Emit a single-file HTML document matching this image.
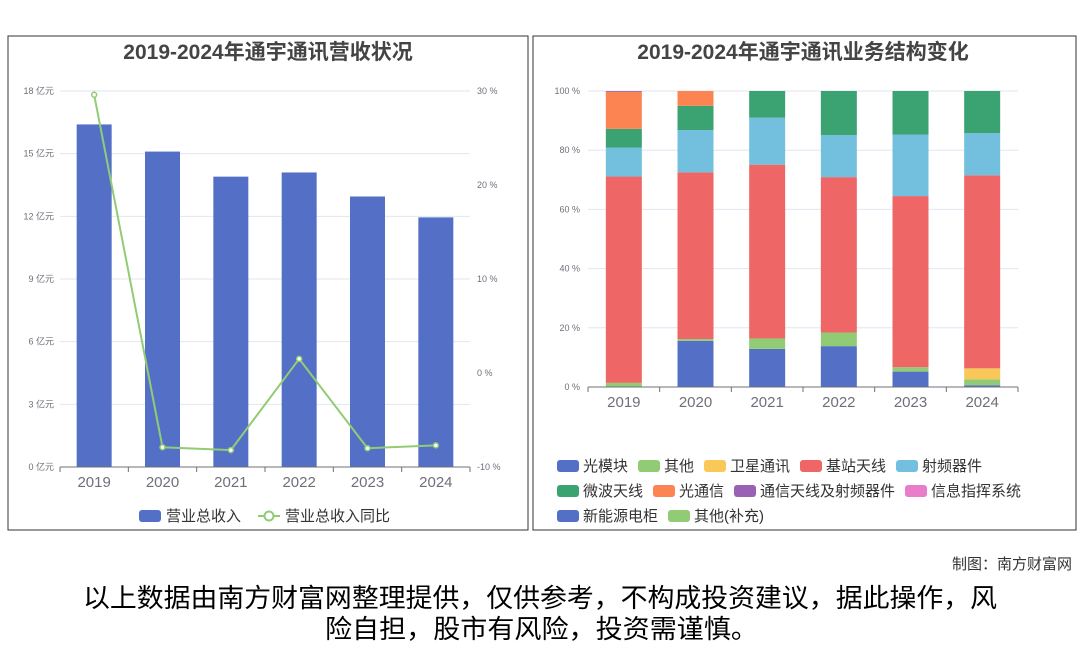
<!DOCTYPE html>
<html><head><meta charset="utf-8">
<style>
body{margin:0;width:1080px;height:646px;background:#fff;overflow:hidden;font-family:"Liberation Sans","Noto Sans CJK SC",sans-serif;}
svg{position:absolute;left:0;top:0}
.t{font-family:"Liberation Sans","Noto Sans CJK SC",sans-serif}
</style></head>
<body>
<svg id="s" width="1080" height="646">
<rect x="8" y="36" width="520" height="494" fill="none" stroke="#333" stroke-width="1"/>
<rect x="533" y="36" width="543" height="494" fill="none" stroke="#333" stroke-width="1"/>
<text class="t" x="268" y="59" text-anchor="middle" font-size="21" font-weight="bold" fill="#444">2019-2024年通宇通讯营收状况</text>
<text class="t" x="803" y="59" text-anchor="middle" font-size="21" font-weight="bold" fill="#444">2019-2024年通宇通讯业务结构变化</text>
<g id="L"></g><g id="R"></g>
<text class="t" x="1072" y="569" text-anchor="end" font-size="15" fill="#333">制图：南方财富网</text>
<text class="t" x="83" y="607" font-size="26" fill="#000" textLength="914" lengthAdjust="spacingAndGlyphs">以上数据由南方财富网整理提供，仅供参考，不构成投资建议，据此操作，风</text>
<text class="t" x="325" y="638" font-size="26" fill="#000" textLength="433" lengthAdjust="spacingAndGlyphs">险自担，股市有风险，投资需谨慎。</text>
</svg>
<script>
const years=["2019","2020","2021","2022","2023","2024"];
const revenue=[16.4,15.1,13.9,14.1,12.95,11.95];
const growth=[29.6,-7.9,-8.2,1.5,-8.0,-7.7];
const leftTicks=[0,3,6,9,12,15,18];
const rightTicks=[-10,0,10,20,30];
const segNames=["光模块","其他","卫星通讯","基站天线","射频器件","微波天线","光通信","通信天线及射频器件","信息指挥系统","新能源电柜","其他(补充)"];
const segColors=["#5470c6","#91cc75","#fac858","#ee6666","#73c0de","#3ba272","#fc8452","#9a60b4","#ea7ccc","#5470c6","#91cc75"];
const s_gmk=[0,15.6,12.9,13.8,5.2,0.6];
const s_other=[1.4,0.6,3.5,4.6,1.5,2.0];
const s_sat=[0,0,0,0,0,3.7];
const s_base=[69.7,56.3,58.7,52.5,57.8,65.2];
const s_rf=[9.8,14.3,15.9,14.2,20.8,14.3];
const s_mw=[6.3,8.2,9.0,14.9,14.7,14.2];
const s_opt=[12.5,5.0,0,0,0,0];
const s_ant=[0.3,0,0,0,0,0];
const s_info=[0,0,0,0,0,0];
const s_ne=[0,0,0,0,0,0];
const s_other2=[0,0,0,0,0,0];
const pctTicks=[0,20,40,60,80,100];
const NS="http://www.w3.org/2000/svg";
function mk(p,tag,a,txt){const e=document.createElementNS(NS,tag);for(const k in a)e.setAttribute(k,a[k]);if(txt!==undefined)e.textContent=txt;p.appendChild(e);return e;}
const L=document.getElementById('L');
const lx0=60,lx1=470,ly0=467,ly1=91;
const yL=v=>ly0-(v/18)*(ly0-ly1);
const yR=v=>ly0-((v+10)/40)*(ly0-ly1);
const bw=(lx1-lx0)/years.length;
const xc=i=>lx0+bw*(i+0.5);
leftTicks.forEach(t=>{const y=yL(t);
 let g=mk(L,'line',{x1:lx0,x2:lx1,y1:y,y2:y,stroke:'#e0e6f1'});
 
 let tx=mk(L,'text',{x:lx0-6,y:y+3,'text-anchor':'end','font-size':9,fill:'#6e7079',class:'t'},t+' 亿元');
 });
rightTicks.forEach(t=>{let tx=mk(L,'text',{x:lx1+7,y:yR(t)+3,'font-size':9,fill:'#6e7079',class:'t'},t+' %');
 });
revenue.forEach((v,i)=>{let r=mk(L,'rect',{x:xc(i)-17.5,y:yL(v),width:35,height:ly0-yL(v),fill:'#5470c6'});
 });
let ax=mk(L,'line',{x1:lx0,x2:lx1,y1:ly0,y2:ly0,stroke:'#6e7079'});

years.forEach((yr,i)=>{mk(L,'line',{x1:lx0+bw*i,x2:lx0+bw*i,y1:ly0,y2:ly0+5,stroke:'#6e7079'});
 let tx=mk(L,'text',{x:xc(i),y:487,'text-anchor':'middle','font-size':15,fill:'#6e7079',class:'t'},yr);
 });
mk(L,'line',{x1:lx1,x2:lx1,y1:ly0,y2:ly0+5,stroke:'#6e7079'});
let pl=mk(L,'polyline',{points:growth.map((v,i)=>xc(i)+','+yR(v)).join(' '),fill:'none',stroke:'#91cc75','stroke-width':2});

growth.forEach((v,i)=>{let c=mk(L,'circle',{cx:xc(i),cy:yR(v),r:2.5,fill:'#fff',stroke:'#91cc75','stroke-width':1.5});
 });
let lg1=mk(L,'g',{});
mk(lg1,'rect',{x:139,y:510,width:22,height:12,rx:3,fill:'#5470c6'});
mk(lg1,'text',{x:166,y:521,'font-size':15,fill:'#333',class:'t'},'营业总收入');
let lg2=mk(L,'g',{});
mk(lg2,'line',{x1:258,x2:280,y1:516,y2:516,stroke:'#91cc75','stroke-width':2});
mk(lg2,'circle',{cx:269,cy:516,r:4.5,fill:'#fff',stroke:'#91cc75','stroke-width':2});
mk(lg2,'text',{x:285,y:521,'font-size':15,fill:'#333',class:'t'},'营业总收入同比');
const R=document.getElementById('R');
const rx0=588,rx1=1018,ry0=387,ry1=91;
const yP=v=>ry0-(v/100)*(ry0-ry1);
const rbw=(rx1-rx0)/years.length;
const rxc=i=>rx0+rbw*(i+0.5);
pctTicks.forEach(t=>{const y=yP(t);
 let g=mk(R,'line',{x1:rx0,x2:rx1,y1:y,y2:y,stroke:'#e0e6f1'});
 
 let tx=mk(R,'text',{x:rx0-8,y:y+3,'text-anchor':'end','font-size':9,fill:'#6e7079',class:'t'},t+' %');
 });
const series=[s_gmk,s_other,s_sat,s_base,s_rf,s_mw,s_opt,s_ant,s_info,s_ne,s_other2];
years.forEach((yr,i)=>{let acc=0;
 series.forEach((ser,k)=>{const v=ser[i];if(v>0){
  let r=mk(R,'rect',{x:rxc(i)-18,y:yP(acc+v),width:36,height:yP(acc)-yP(acc+v),fill:segColors[k]});
  }
  acc+=v;});});
let ax2=mk(R,'line',{x1:rx0,x2:rx1,y1:ry0,y2:ry0,stroke:'#6e7079'});

years.forEach((yr,i)=>{mk(R,'line',{x1:rx0+rbw*i,x2:rx0+rbw*i,y1:ry0,y2:ry0+5,stroke:'#6e7079'});
 let tx=mk(R,'text',{x:rxc(i),y:407,'text-anchor':'middle','font-size':15,fill:'#6e7079',class:'t'},yr);
 });
mk(R,'line',{x1:rx1,x2:rx1,y1:ry0,y2:ry0+5,stroke:'#6e7079'});
const rows=[[0,1,2,3,4],[5,6,7,8],[9,10]];
rows.forEach((row,ri)=>{let x=557;const y=466+ri*25;
 row.forEach(k=>{let g=mk(R,'g',{});
  
  mk(g,'rect',{x:x,y:y-6,width:22,height:12,rx:3,fill:segColors[k]});
  const w=segNames[k].replace(/[()]/g,'').length*15+(segNames[k].includes('(')?10:0);
  mk(g,'text',{x:x+26,y:y+5,'font-size':15,fill:'#333',class:'t'},segNames[k]);
  x+=26+w+10;});});
</script>
</body></html>
